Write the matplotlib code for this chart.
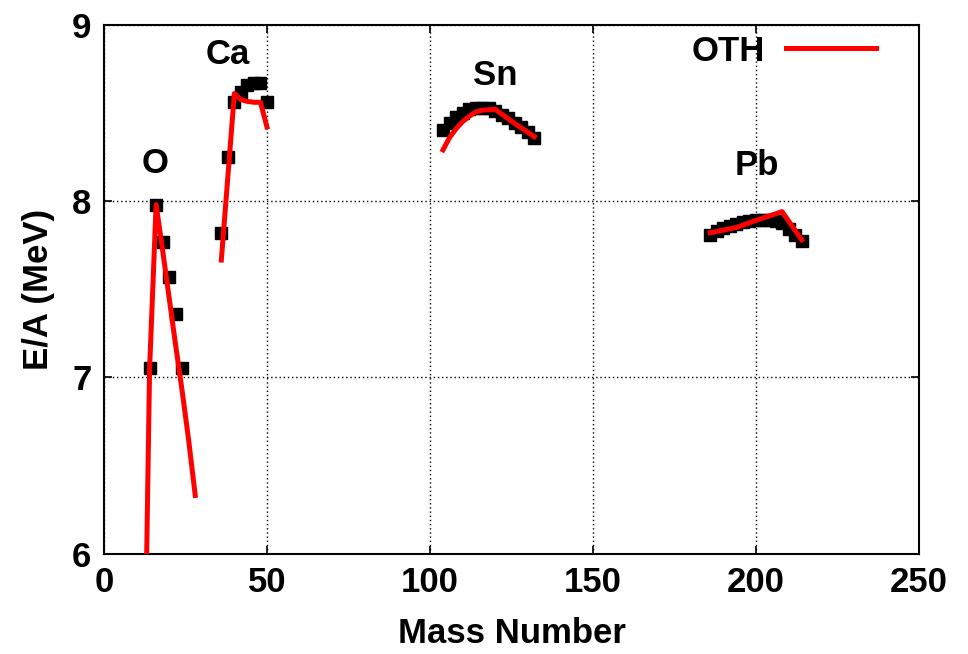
import matplotlib
matplotlib.use("Agg")
import matplotlib.pyplot as plt

plt.rcParams['font.family'] = ['Liberation Sans', 'DejaVu Sans']
plt.rcParams['font.weight'] = 'bold'
plt.rcParams['font.size'] = 25

# experimental E/A (black squares)
o_exp_a = [14, 16, 18, 20, 22, 24]
o_exp_e = [7.05, 7.98, 7.77, 7.57, 7.36, 7.05]
ca_exp_a = [36, 38, 40, 42, 44, 46, 48, 50]
ca_exp_e = [7.82, 8.25, 8.56, 8.62, 8.66, 8.67, 8.67, 8.56]
sn_exp_a = [104, 106, 108, 110, 112, 114, 116, 118, 120, 122, 124, 126, 128, 130, 132]
sn_exp_e = [8.40, 8.44, 8.475, 8.50, 8.52, 8.53, 8.53, 8.525, 8.51, 8.49, 8.47, 8.445, 8.42, 8.39, 8.36]
pb_exp_a = [186, 188, 190, 192, 194, 196, 198, 200, 202, 204, 206, 208, 210, 212, 214]
pb_exp_e = [7.81, 7.83, 7.845, 7.86, 7.87, 7.88, 7.885, 7.89, 7.895, 7.895, 7.885, 7.875, 7.84, 7.81, 7.775]

# OTH calculation (red lines)
o_oth_a = [12, 14, 16, 18, 20, 22, 24, 26, 28]
o_oth_e = [4.7, 7.05, 7.98, 7.72, 7.45, 7.18, 6.92, 6.64, 6.33]
ca_oth_a = [36, 40, 42, 44, 46, 48, 50]
ca_oth_e = [7.665, 8.61, 8.575, 8.565, 8.56, 8.56, 8.42]
sn_oth_a = [104, 106, 108, 110, 112, 114, 116, 120, 126, 132]
sn_oth_e = [8.29, 8.36, 8.41, 8.45, 8.48, 8.505, 8.515, 8.52, 8.44, 8.365]
pb_oth_a = [186, 194, 200, 208, 214]
pb_oth_e = [7.82, 7.85, 7.89, 7.94, 7.78]

labels = ['O', 'Ca', 'Sn', 'Pb']
label_a = [15.6, 38, 120, 200.3]
label_e = [8.21, 8.83, 8.71, 8.20]

fig = plt.figure(figsize=(9.68, 6.54), dpi=100)
ax = fig.add_axes([0.1074, 0.1535, 0.8420, 0.8087])

exp_sets = [(o_exp_a, o_exp_e), (ca_exp_a, ca_exp_e), (sn_exp_a, sn_exp_e), (pb_exp_a, pb_exp_e)]
for a, e in exp_sets:
    ax.plot(a, e, 's', color='black', markersize=8, zorder=3)

oth_sets = [(o_oth_a, o_oth_e), (ca_oth_a, ca_oth_e), (sn_oth_a, sn_oth_e), (pb_oth_a, pb_oth_e)]
for i, (a, e) in enumerate(oth_sets):
    ax.plot(a, e, '-', color='red', lw=3.6, zorder=4, label='OTH' if i == 0 else None)

for t, a, e in zip(labels, label_a, label_e):
    ax.text(a, e, t, ha='center', va='center', fontsize=25, fontweight='bold')

ax.set_xlim(0, 250)
ax.set_ylim(6, 9)
ax.set_xticks([0, 50, 100, 150, 200, 250])
ax.set_yticks([6, 7, 8, 9])
ax.grid(True, color='black', linestyle=(0, (1, 2)), linewidth=1.0)
ax.tick_params(direction='in', top=True, right=True, length=6, width=1.2, labelsize=25, pad=9)
for s in ax.spines.values():
    s.set_linewidth(1.5)

ax.set_xlabel('Mass Number', fontsize=25, fontweight='bold', labelpad=13)
ax.set_ylabel('E/A (MeV)', fontsize=25, fontweight='bold', labelpad=12)

ax.legend(loc='upper right', bbox_to_anchor=(0.975, 1.024), frameon=False, markerfirst=False,
          handlelength=2.6, fontsize=25, borderaxespad=0.25, handletextpad=0.6)

fig.savefig('out.png', dpi=100)
